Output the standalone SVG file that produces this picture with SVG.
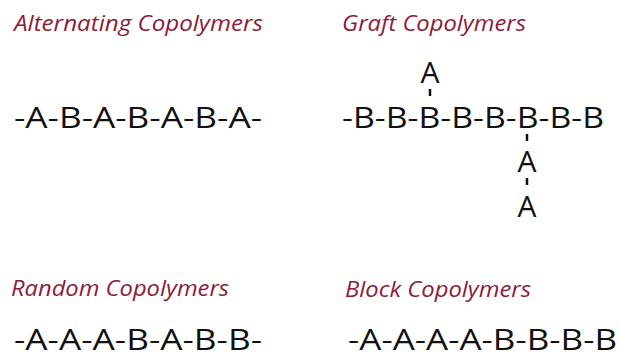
<svg xmlns="http://www.w3.org/2000/svg" width="619" height="354" viewBox="0 0 619 354">
<style>
.t{font-family:"Open Sans","Noto Sans",sans-serif;font-style:italic;font-size:22px;fill:#8c1c3c}
.c{font-family:"Open Sans","Noto Sans",sans-serif;font-size:30px;fill:#111}
.b{stroke:#111;stroke-width:2.5}
</style>
<rect width="619" height="354" fill="#fff"/>
<g id="alternating">
<text class="t" x="14" y="31" textLength="249" lengthAdjust="spacingAndGlyphs">Alternating Copolymers</text>
<text class="c" x="14" y="128" textLength="248" lengthAdjust="spacingAndGlyphs">-A-B-A-B-A-B-A-</text>
</g>
<g id="graft">
<text class="t" x="342" y="31" textLength="184" lengthAdjust="spacingAndGlyphs">Graft Copolymers</text>
<text class="c" x="342" y="128" textLength="262" lengthAdjust="spacingAndGlyphs">-B-B-B-B-B-B-B-B</text>
<text class="c" x="430" y="83" text-anchor="middle">A</text>
<text class="c" x="527" y="172" text-anchor="middle">A</text>
<text class="c" x="527" y="217" text-anchor="middle">A</text>
</g>
<g id="connectors">
<line class="b" x1="430" y1="89" x2="430" y2="96"/>
<line class="b" x1="527" y1="134" x2="527" y2="141"/>
<line class="b" x1="527" y1="178" x2="527" y2="185"/>
</g>
<g id="random">
<text class="t" x="11" y="296" textLength="218" lengthAdjust="spacingAndGlyphs">Random Copolymers</text>
<text class="c" x="14" y="350" textLength="248" lengthAdjust="spacingAndGlyphs">-A-A-A-B-A-B-B-</text>
</g>
<g id="block">
<text class="t" x="345" y="297" textLength="186" lengthAdjust="spacingAndGlyphs">Block Copolymers</text>
<text class="c" x="348" y="350" textLength="269" lengthAdjust="spacingAndGlyphs">-A-A-A-A-B-B-B-B</text>
</g>
</svg>
